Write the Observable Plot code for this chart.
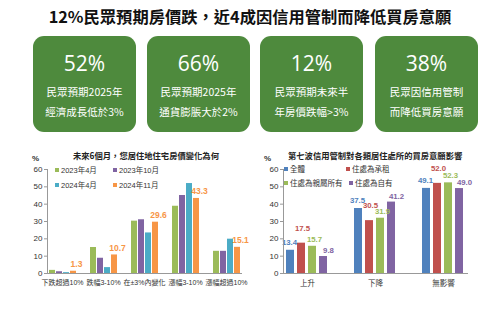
<!DOCTYPE html>
<html>
<head>
<meta charset="utf-8">
<script src="https://cdn.jsdelivr.net/npm/d3@7"></script>
<script src="https://cdn.jsdelivr.net/npm/@observablehq/plot@0.6"></script>
<style>
  html, body { margin: 0; padding: 0; background: #fff; }
  body { width: 500px; height: 311px; position: relative; overflow: hidden;
         font-family: "Liberation Sans", "Noto Sans CJK TC", sans-serif; color: #333; }
  .title { position: absolute; left: 0; top: 5px; width: 500px; text-align: center;
           font-family: "Noto Sans CJK TC", sans-serif; font-weight: bold; font-size: 16.3px; color: #111; line-height: 22px; }
  .card { position: absolute; top: 36px; width: 103px; height: 96px; background: #4e8a3d; border-radius: 11px; color: #fff; text-align: center; }
  .card .big { position: absolute; left: 0; width: 100%; top: 14px; font-family: "Open Sans", sans-serif; font-size: 21px; line-height: 26px; }
  .card .line { position: absolute; left: 0; width: 100%; font-family: "Noto Sans CJK TC", sans-serif; font-size: 10.5px; line-height: 14px; }
  .ctitle { position: absolute; top: 149px; font-family: "Noto Sans CJK TC", sans-serif; font-weight: bold; font-size: 8.3px; color: #222; white-space: nowrap; }
  .pct { position: absolute; top: 154px; font-size: 8px; font-weight: bold; color: #333; }
  .leg { position: absolute; font-family: "Liberation Sans", "Noto Sans CJK TC", sans-serif; font-size: 7.5px; color: #333; white-space: nowrap; line-height: 10px; }
  .leg i { display: inline-block; width: 4px; height: 4px; margin-right: 2px; vertical-align: 1px; }
  .chart { position: absolute; top: 150px; }
</style>
</head>
<body>
<div class="title" id="title"></div>
<div id="cards"></div>
<div id="texts"></div>
<div class="chart" id="left" style="left:0px"></div>
<div class="chart" id="right" style="left:250px"></div>
<script>
// ---------- DATA ----------
const mainTitle = "12%民眾預期房價跌，近4成因信用管制而降低買房意願";
const cardNumbers = ["52%", "66%", "12%", "38%"];
const cardLine1 = ["民眾預期2025年", "民眾預期2025年", "民眾預期未來半", "民眾因信用管制"];
const cardLine2 = ["經濟成長低於3%", "通貨膨脹大於2%", "年房價跌幅>3%", "而降低買房意願"];

const leftTitle = "未來6個月，您居住地住宅房價變化為何";
const leftCategories = ["下跌超過10%", "跌幅3-10%", "在±3%內變化", "漲幅3-10%", "漲幅超過10%"];
const leftSeries = ["2023年4月", "2023年10月", "2024年4月", "2024年11月"];
const leftColors = ["#9bbb59", "#8064a2", "#4bacc6", "#f79646"];
const left2023Apr = [1.8, 15.0, 30.2, 38.8, 12.8];
const left2023Oct = [1.0, 8.8, 31.0, 45.0, 12.8];
const left2024Apr = [0.5, 3.4, 23.4, 51.9, 19.8];
const left2024Nov = [1.3, 10.7, 29.6, 43.3, 15.1];
const leftLabelSeries = "2024年11月";

const rightTitle = "第七波信用管制對各類居住處所的買房意願影響";
const rightCategories = ["上升", "下降", "無影響"];
const rightSeries = ["全體", "住處為承租", "住處為親屬所有", "住處為自有"];
const rightColors = ["#4f81bd", "#c0504d", "#9bbb59", "#8064a2"];
const rightAll = [13.4, 37.5, 49.1];
const rightRent = [17.5, 30.5, 52.0];
const rightFamily = [15.7, 31.9, 52.3];
const rightOwn = [9.8, 41.2, 49.0];

const yTicks = [0, 10, 20, 30, 40, 50, 60];

// ---------- HTML TEXT ----------
document.getElementById("title").textContent = mainTitle;
const cardLefts = [33, 147, 260, 375];
const cardsEl = document.getElementById("cards");
cardNumbers.forEach((n, i) => {
  const c = document.createElement("div");
  c.className = "card";
  c.style.left = cardLefts[i] + "px";
  c.innerHTML = `<div class="big"></div><div class="line" style="top:49px"></div><div class="line" style="top:69px"></div>`;
  c.children[0].textContent = n;
  c.children[1].textContent = cardLine1[i];
  c.children[2].textContent = cardLine2[i];
  cardsEl.appendChild(c);
});

const texts = document.getElementById("texts");
function addDiv(cls, style, html) {
  const d = document.createElement("div");
  d.className = cls; d.setAttribute("style", style); d.innerHTML = html;
  texts.appendChild(d); return d;
}
addDiv("ctitle", "left:73px", leftTitle);
addDiv("ctitle", "left:288px", rightTitle);
addDiv("pct", "left:32px", "%");
addDiv("pct", "left:264px", "%");
const leftLegPos = [[55,166],[113,166],[55,181],[113,181]];
leftSeries.forEach((s, i) => addDiv("leg", `left:${leftLegPos[i][0]}px;top:${leftLegPos[i][1]}px`, `<i style="background:${leftColors[i]}"></i>${s}`));
const rightLegPos = [[284,165],[346,165],[284,179],[349,179]];
rightSeries.forEach((s, i) => addDiv("leg", `left:${rightLegPos[i][0]}px;top:${rightLegPos[i][1]}px`, `<i style="background:${rightColors[i]}"></i>${s}`));

// ---------- CHARTS ----------
function buildData(cats, series, arrays) {
  return cats.flatMap((c, i) => series.map((s, j) => ({category: c, series: s, value: arrays[j][i]})));
}
const leftData = buildData(leftCategories, leftSeries, [left2023Apr, left2023Oct, left2024Apr, left2024Nov]);
const rightData = buildData(rightCategories, rightSeries, [rightAll, rightRent, rightFamily, rightOwn]);

const fontFam = "Liberation Sans, Noto Sans CJK TC, sans-serif";

function chart(data, cats, series, colors, opts) {
  const labelMarks = opts.labels.map(L => Plot.text(data.filter(d => d.series === L.series),
    {fx: "category", x: "series", y: "value", text: d => d.value.toFixed(1),
     fill: "series", fontWeight: "bold", fontSize: opts.lfs, dy: L.dy, dx: L.dx}));
  return Plot.plot({
    width: 250, height: 150,
    marginLeft: opts.ml, marginRight: opts.mr, marginTop: 19, marginBottom: 27,
    style: {fontFamily: fontFam, fontSize: "8px", color: "#333", background: "transparent", overflow: "visible"},
    fx: {domain: cats, paddingInner: opts.pi, paddingOuter: opts.po, label: null},
    x: {domain: series, padding: opts.xp, axis: null},
    y: {domain: [0, 60], axis: null},
    color: {domain: series, range: colors},
    marks: [
      Plot.barY(data, {fx: "category", x: "series", y: "value", fill: "series"}),
      ...labelMarks,
      Plot.frame({anchor: "bottom", facet: "super", stroke: "#999"}),
      Plot.frame({anchor: "left", facet: "super", stroke: "#999"}),
      Plot.axisY({ticks: yTicks, tickSize: 3, tickPadding: 2, label: null, fontSize: 8, stroke: "#999"}),
      Plot.axisFx({anchor: "bottom", tickSize: 0, tickPadding: 7, label: null, fontSize: opts.fxs, fill: "#333"})
    ]
  });
}

document.getElementById("left").appendChild(chart(leftData, leftCategories, leftSeries, leftColors,
  {ml: 40, mr: 2, pi: 0.28, po: 0.14, xp: 0.15, fxs: 7, lfs: 8.5,
   labels: [{series: leftLabelSeries, dx: 3, dy: -7}]}));
document.getElementById("right").appendChild(chart(rightData, rightCategories, rightSeries, rightColors,
  {ml: 22, mr: 23, pi: 0.3, po: 0.15, xp: 0.25, fxs: 7.5, lfs: 7.8,
   labels: [
     {series: rightSeries[0], dx: -1, dy: -8},
     {series: rightSeries[1], dx: 1, dy: -15},
     {series: rightSeries[2], dx: 2, dy: -7},
     {series: rightSeries[3], dx: 5, dy: -6}
   ]}));
</script>
</body>
</html>
